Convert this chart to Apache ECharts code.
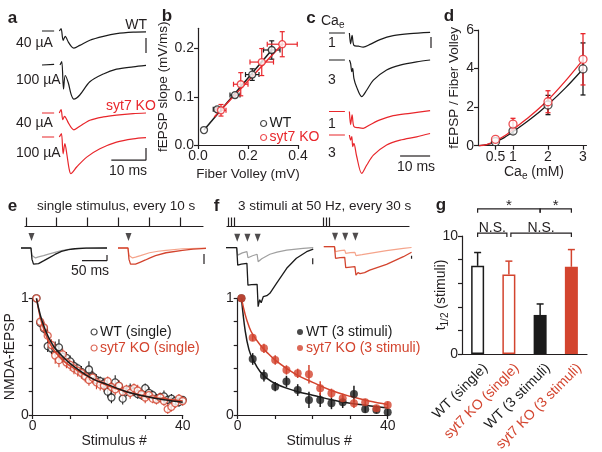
<!DOCTYPE html>
<html><head><meta charset="utf-8">
<script src="https://cdn.jsdelivr.net/npm/echarts@6/dist/echarts.min.js"></script>
<style>html,body{margin:0;padding:0;background:#fff}#c{width:602px;height:452px}</style>
</head><body><div id="c"></div>
<script>
// ================= DATA =================
// a: fEPSP traces [time ms, mV]; a null value splits off the pre-stimulus baseline
const aWT40  = [[0,0],[3.5,0],[4.2,null],[5.0,0],[5.5,0.08],[6.1,-0.31],[6.7,-0.18],[7.6,-0.37],[8.5,-0.52],[9.2,-0.57],[10.9,-0.48],[13.8,-0.31],[17.7,-0.18],[21.5,-0.09],[26.3,-0.04],[30,-0.03]];
const aWT100 = [[0,0],[3.5,0.02],[4.2,null],[5.2,0],[5.7,0.11],[6.2,-0.8],[6.7,-0.35],[7.6,-0.6],[8.4,-0.98],[9.2,-1.14],[10.9,-1.0],[13.8,-0.56],[17.7,-0.3],[21.5,-0.14],[26.3,-0.06],[30,-0.01]];
const aKO40  = [[0,0],[3.5,0],[4.2,null],[5.0,0],[5.5,0.11],[6.0,-0.22],[6.5,-0.11],[7.6,-0.33],[8.4,-0.48],[9.2,-0.56],[10.9,-0.44],[13.8,-0.24],[17.7,-0.13],[21.5,-0.07],[26.3,-0.02],[30,0]];
const aKO100 = [[0,0],[3.5,0],[4.2,null],[5.0,0],[5.6,0.11],[6.1,-0.56],[6.6,-0.22],[7.2,-0.6],[7.8,-1.05],[8.3,-1.22],[10.0,-1.0],[12.9,-0.67],[16.7,-0.39],[21.5,-0.17],[26.3,-0.06],[30,-0.02]];
const aScaleWT = [[30,-0.23],[30,-0.73]];
const aScaleKO = [[20,-0.77],[30,-0.77],[30,-0.37]];

// b: fEPSP slope vs fiber volley  [x, y]  and errors [xerr, yerr]
const bWT    = [[0.024,0.031],[0.077,0.074],[0.148,0.1035],[0.217,0.146],[0.295,0.197]];
const bWTerr = [[0,0],[0.016,0.004],[0.02,0.005],[0.027,0.012],[0.033,0.019]];
const bKO    = [[0.092,0.072],[0.171,0.126],[0.255,0.172],[0.337,0.209]];
const bKOerr = [[0.02,0.012],[0.029,0.024],[0.047,0.028],[0.06,0.026]];
const bWTfit = [[0.024,0.031],[0.295,0.197]];
const bKOfit = [[0.065,0.058],[0.337,0.209]];

// c: traces at Ca_e 1 and 3 mM
const cWT1 = [[0,0],[5.3,0],[6,null],[6.8,0],[7.2,-0.36],[7.7,-0.08],[8.3,-0.41],[9.8,-0.44],[11.4,-0.47],[13.7,-0.38],[17,-0.22],[21.4,-0.09],[27,-0.02],[33.7,0.02]];
const cWT3 = [[0,0],[5.3,0],[6,null],[6.8,0],[7.2,-0.11],[7.6,-0.39],[7.9,-0.28],[8.3,-0.61],[9.2,-0.9],[10.9,-1.22],[12.6,-1.0],[14.8,-0.67],[19.2,-0.33],[23.7,-0.17],[29.2,-0.06],[33.7,0]];
const cKO1 = [[0,0],[5.3,0],[6,null],[6.8,0],[7.2,-0.44],[7.7,-0.11],[8.3,-0.5],[9.8,-0.54],[11.4,-0.56],[13.7,-0.44],[17,-0.28],[21.4,-0.14],[27,-0.06],[33.7,0.03]];
const cKO3 = [[0,0],[5.3,0],[6,null],[6.8,0],[7.2,-0.17],[7.6,-0.05],[7.9,-0.39],[8.3,-0.28],[9.2,-0.7],[10.9,-1.28],[12.6,-1.0],[14.8,-0.67],[19.2,-0.33],[23.7,-0.17],[29.2,-0.06],[33.7,0.05]];
const cScaleV = [[34,-0.13],[34,-0.5]];
const cScaleH = [[23.7,-0.7],[33.7,-0.7]];

// d: fEPSP / fiber volley vs Ca_e
const dCa    = [0.5,1,2,3];
const dWT    = [0.21,0.76,2.11,3.98];
const dWTerr = [0.06,0.15,0.5,1.35];
const dKO    = [0.33,1.12,2.28,4.48];
const dKOerr = [0.07,0.3,0.57,1.33];
const dWTfit = [[0.03,0],[0.25,0.05],[0.5,0.2],[0.75,0.42],[1,0.72],[1.5,1.38],[2,2.14],[2.5,3.0],[3,3.98]];
const dKOfit = [[0.03,0],[0.25,0.06],[0.5,0.25],[0.75,0.5],[1,0.84],[1.5,1.55],[2,2.37],[2.5,3.36],[3,4.45]];
const dTicks = [0.5,1,2,3];

// e: single stimulus every 10 s
const eTrain = [0,10,20,30,40,50];
const eStim  = [1,2,3,4,5,6,7,8,9,10,11,12,13,14,15,16,17,18,19,20,21,22,23,24,25,26,27,28,29,30,31,32,33,34,35,36,37,38,39,40];
const eWT    = [1.0,0.79,0.74,0.59,0.57,0.57,0.58,0.5,0.49,0.46,0.42,0.4,0.37,0.34,0.39,0.33,0.3,0.29,0.27,0.2,0.15,0.28,0.25,0.14,0.2,0.22,0.2,0.18,0.17,0.23,0.19,0.17,0.14,0.15,0.16,0.13,0.14,0.12,0.11,0.13];
const eWTerr = [0,0.04,0.04,0.05,0.05,0.06,0.07,0.05,0.05,0.05,0.05,0.04,0.05,0.04,0.07,0.05,0.05,0.04,0.05,0.05,0.05,0.06,0.04,0.05,0.04,0.05,0.04,0.04,0.04,0.04,0.05,0.04,0.04,0.04,0.05,0.04,0.04,0.03,0.04,0.03];
const eKO    = [1.0,0.8,0.75,0.68,0.6,0.51,0.47,0.52,0.45,0.43,0.4,0.38,0.36,0.33,0.3,0.32,0.28,0.26,0.25,0.29,0.24,0.22,0.25,0.2,0.22,0.19,0.23,0.21,0.18,0.15,0.17,0.14,0.13,0.15,0.12,0.05,0.07,0.1,0.14,0.12];
const eKOerr = [0,0.05,0.05,0.05,0.05,0.07,0.06,0.05,0.05,0.05,0.05,0.05,0.05,0.05,0.05,0.05,0.06,0.05,0.05,0.04,0.05,0.05,0.05,0.05,0.04,0.05,0.04,0.05,0.04,0.05,0.04,0.04,0.04,0.04,0.04,0.04,0.04,0.04,0.04,0.04];
const eWTfit = [[1,1],[2,0.86],[3,0.76],[4,0.68],[5,0.62],[6,0.57],[8,0.5],[10,0.44],[13,0.37],[16,0.31],[20,0.26],[25,0.2],[30,0.16],[35,0.13],[40,0.11]];
const eKOfit = [[1,1],[2,0.84],[3,0.73],[4,0.65],[5,0.59],[6,0.54],[8,0.47],[10,0.42],[13,0.36],[16,0.31],[20,0.25],[25,0.2],[30,0.16],[35,0.14],[40,0.12]];
// e inset traces [ms, arbitrary]
const eStimT    = [21];
const eWTfirst  = [[0,0],[20,0],[21,0],[22,-0.6],[25,-0.85],[29,-0.91],[35,-0.82],[45,-0.68],[55,-0.53],[68,-0.34],[81,-0.18],[95,-0.09],[108,-0.04],[130,-0.01],[172,0]];
const eWTlast   = [[0,0],[20,0],[21,0],[22,-0.4],[25,-0.5],[29,-0.52],[35,-0.47],[45,-0.4],[55,-0.32],[68,-0.23],[81,-0.14],[95,-0.07],[108,-0.03],[130,0],[172,0]];
const eKOfirst  = [[0,0],[20,0],[21,0],[22,-0.6],[25,-0.85],[29,-0.91],[35,-0.85],[45,-0.74],[55,-0.63],[63,-0.53],[75,-0.4],[96,-0.25],[129,-0.12],[150,-0.06],[176,-0.02]];
const eKOlast   = [[0,0],[20,0],[21,0],[22,-0.4],[25,-0.5],[29,-0.52],[35,-0.48],[45,-0.4],[63,-0.25],[80,-0.17],[96,-0.12],[129,-0.04],[176,0]];
const eScaleWT  = [[122,-0.66],[172,-0.66],[172,-0.37]];
const eScaleKO  = [[172,-0.32],[172,-0.84]];

// f: 3 stimuli at 50 Hz every 30 s
const fTrain = [0,0.95,1.9,30,30.95,31.9];
const fStim  = [1,4,7,10,13,16,19,22,25,28,31,34,37,40];
const fWT    = [1.0,0.48,0.337,0.243,0.286,0.214,0.129,0.129,0.1,0.11,0.18,0.05,0.043,0.023];
const fWTerr = [0,0.05,0.05,0.04,0.05,0.05,0.07,0.06,0.05,0.05,0.07,0.03,0.03,0.03];
const fKO    = [1.0,0.663,0.571,0.471,0.386,0.357,0.349,0.229,0.186,0.143,0.1,0.109,0.057,0.086];
const fKOerr = [0,0.03,0.04,0.04,0.04,0.04,0.08,0.06,0.04,0.04,0.04,0.03,0.03,0.03];
const fWTfit = [[1,1],[2,0.72],[3,0.56],[4,0.48],[6,0.37],[8,0.31],[10,0.27],[13,0.23],[16,0.2],[20,0.17],[25,0.13],[30,0.1],[35,0.08],[40,0.06]];
const fKOfit = [[1,1],[2,0.86],[3,0.76],[4,0.69],[6,0.6],[8,0.53],[10,0.47],[13,0.4],[16,0.34],[20,0.28],[25,0.21],[30,0.16],[35,0.12],[40,0.09]];
const fStimT   = [22,42,62];
const fWTfirst = [[0,0],[21,0],[22,-0.1],[23,-0.87],[30,-0.82],[41,-0.78],[42,-0.8],[43,-1.87],[50,-1.85],[61,-1.83],[62,-1.85],[63,-2.95],[66,-2.6],[69,-2.75],[73,-2.45],[80,-2.4],[86,-2.28],[99,-1.78],[119,-1.03],[138,-0.53],[158,-0.2],[171,-0.07]];
const fWTlast  = [[0,0],[21,0],[22,-0.05],[23,-0.37],[32,-0.26],[41,-0.2],[42,-0.22],[43,-0.5],[52,-0.4],[61,-0.33],[62,-0.35],[63,-0.7],[70,-0.55],[86,-0.33],[100,-0.22],[119,-0.12],[151,-0.03],[171,0]];
const fKOfirst = [[0,0],[21,0],[22,-0.05],[23,-0.58],[32,-0.55],[41,-0.53],[42,-0.55],[43,-1.05],[52,-1.02],[61,-1.0],[62,-1.02],[63,-1.42],[67,-1.3],[71,-1.35],[74,-1.42],[80,-1.3],[90,-1.17],[123,-0.88],[156,-0.5],[172,-0.28]];
const fKOlast  = [[0,0],[21,0],[22,-0.03],[23,-0.25],[32,-0.2],[41,-0.17],[42,-0.18],[43,-0.33],[52,-0.3],[61,-0.28],[62,-0.3],[63,-0.45],[75,-0.4],[90,-0.33],[123,-0.2],[156,-0.08],[172,-0.04]];
const fScaleWT = [[170,-0.53],[170,-0.83]];
const fScaleKO = [[172,-0.45],[172,-0.6]];

// g: half-decay (stimuli)
const gCats = ['WT (single)','syt7 KO (single)','WT (3 stimuli)','syt7 KO (3 stimuli)'];
const gVals = [7.47,6.74,3.31,7.39];
const gErr  = [1.13,1.13,0.93,1.46];
const gBrackets = [[0,2,12.3],[2,3,12.3],[0,1,10.25],[1,3,10.25]];
const gBracketText = ['*','*','N.S.','N.S.'];

// ================= STYLE / BUILD =================
const C = {black:'#1b1b1b', red:'#e8262b', red2:'#d3442e', grey:'#a0a0a0', pink:'#f5a48b', axis:'#231f20'};
const FONT = '"Liberation Sans", Arial, sans-serif';
function mg(a,b){const o=Object.assign({},a);for(const k in b){const v=b[k];if(v&&typeof v==='object'&&!Array.isArray(v)&&o[k]&&typeof o[k]==='object'&&!Array.isArray(o[k]))o[k]=mg(o[k],v);else o[k]=v;}return o;}
const grids=[], xAxes=[], yAxes=[], series=[];
function addGrid(rect,x,y){grids.push(Object.assign({show:false,containLabel:false},rect));const i=grids.length-1;xAxes.push(Object.assign({gridIndex:i},x));yAxes.push(Object.assign({gridIndex:i},y));return i;}
const hid=(min,max)=>({type:'value',min,max,show:false});
function vAxis(extra){return mg({type:'value',axisLine:{show:true,onZero:false,lineStyle:{color:C.axis,width:1.2}},axisTick:{show:true,length:4,lineStyle:{color:C.axis,width:1.2}},axisLabel:{color:C.axis,fontSize:14,fontFamily:FONT,margin:4},splitLine:{show:false},nameLocation:'middle',nameTextStyle:{color:C.axis,fontSize:14,fontFamily:FONT}},extra);}
function line(g,data,color,w,smooth,z){series.push({type:'line',xAxisIndex:g,yAxisIndex:g,data,symbol:'none',clip:false,smooth:smooth||0,connectNulls:false,lineStyle:{color,width:w||1.2},silent:true,z:z||3,animation:false});}
function arrows(g,times,off){series.push({type:'scatter',xAxisIndex:g,yAxisIndex:g,data:times.map(t=>[t,0]),symbol:'triangle',symbolRotate:180,symbolSize:[6,8],symbolOffset:[0,off],itemStyle:{color:C.axis},silent:true,z:5});}
function errRender(color,cap,w){return function(params,api){const x=api.value(0),y=api.value(1),ex=api.value(2),ey=api.value(3);const st={stroke:color,lineWidth:w||1.2};const ch=[];const L=(a,b)=>ch.push({type:'line',shape:{x1:a[0],y1:a[1],x2:b[0],y2:b[1]},style:st});
 if(ey>0){const p=api.coord([x,y-ey]),q=api.coord([x,y+ey]);L(p,q);if(cap){L([p[0]-cap,p[1]],[p[0]+cap,p[1]]);L([q[0]-cap,q[1]],[q[0]+cap,q[1]]);}}
 if(ex>0){const p=api.coord([x-ex,y]),q=api.coord([x+ex,y]);L(p,q);if(cap){L([p[0],p[1]-cap],[p[0],p[1]+cap]);L([q[0],q[1]-cap],[q[0],q[1]+cap]);}}
 return {type:'group',children:ch};};}
function errSeries(g,data,color,cap,w){series.push({type:'custom',xAxisIndex:g,yAxisIndex:g,data,encode:{x:0,y:1},renderItem:errRender(color,cap,w),clip:false,silent:true,z:2});}
function pts(g,name,data,color,hollow,size){series.push({type:'scatter',name,xAxisIndex:g,yAxisIndex:g,data,symbol:'circle',symbolSize:size,itemStyle:hollow?{color:'#fff',borderColor:color,borderWidth:1.3}:{color},silent:true,z:4});}

// --- a traces
[[aWT40,C.black,23.5],[aWT100,C.black,57.5],[aKO40,C.red,105.5],[aKO100,C.red,129.5]].forEach(([d,c,top],i)=>{
  const g=addGrid({left:42,top,width:104,height:45},hid(0,30),hid(-1.25,0.25));line(g,d,c,1.2,0.3);
  if(i===0)line(g,aScaleWT,C.axis,1.2);if(i===3)line(g,aScaleKO,C.axis,1.2);});
// --- c traces
[[cWT1,C.black,25.5],[cWT3,C.black,52.5],[cKO1,C.red,104],[cKO3,C.red,127.5]].forEach(([d,c,top],i)=>{
  const g=addGrid({left:329,top,width:102,height:45},hid(0,34),hid(-1.25,0.25));line(g,d,c,1.2,0.3);
  if(i===0)line(g,cScaleV,C.axis,1.2);if(i===3)line(g,cScaleH,C.axis,1.2);});

// --- b
const gb=addGrid({left:198,top:28.3,width:100,height:116.7},
  vAxis({min:0,max:0.4,axisTick:{customValues:[0,0.2,0.4]},axisLabel:{customValues:[0,0.2,0.4],formatter:v=>v.toFixed(1)},name:'Fiber Volley (mV)',nameGap:22,nameTextStyle:{fontSize:13.5}}),
  vAxis({min:0,max:0.242,axisTick:{customValues:[0,0.1,0.2]},axisLabel:{customValues:[0,0.1,0.2],formatter:v=>v.toFixed(1)},name:'fEPSP slope (mV/ms)',nameGap:21,nameTextStyle:{fontSize:13.5}}));
line(gb,bWTfit,C.black,1.5,0,3);line(gb,bKOfit,C.red,1.5,0,3);
errSeries(gb,bWT.map((p,i)=>[p[0],p[1],bWTerr[i][0],bWTerr[i][1]]),C.black,2.5);
errSeries(gb,bKO.map((p,i)=>[p[0],p[1],bKOerr[i][0],bKOerr[i][1]]),C.red,2.5);
pts(gb,'WT',bWT,C.black,true,7);pts(gb,'syt7 KO',bKO,C.red,true,7);

// --- d
const gd=addGrid({left:478,top:30,width:108.5,height:115.7},
  vAxis({min:0,max:3.1,axisTick:{customValues:dTicks},axisLabel:{customValues:dTicks,formatter:v=>String(v)}}),
  vAxis({min:0,max:6,axisTick:{customValues:[0,2,4,6]},axisLabel:{customValues:[0,2,4,6]},name:'fEPSP / Fiber Volley',nameGap:17,nameTextStyle:{fontSize:13.5}}));
line(gd,dWTfit,C.black,1.3,0.3,3);line(gd,dKOfit,C.red,1.3,0.3,3);
errSeries(gd,dCa.map((x,i)=>[x,dWT[i],0,dWTerr[i]]),C.black,2.5,1.3);
errSeries(gd,dCa.map((x,i)=>[x,dKO[i],0,dKOerr[i]]),C.red,2.5,1.3);
pts(gd,'WT d',dCa.map((x,i)=>[x,dWT[i]]),C.black,true,8);pts(gd,'KO d',dCa.map((x,i)=>[x,dKO[i]]),C.red,true,8);

// --- trains
const trainAxis=(vals)=>({type:'value',min:-0.3,max:57.5,axisLine:{show:true,onZero:false,lineStyle:{color:C.axis,width:1.2}},axisTick:{show:true,inside:true,length:9,customValues:vals,lineStyle:{color:C.axis,width:1.2}},axisLabel:{show:false},splitLine:{show:false}});
addGrid({left:25,top:217.5,width:178,height:9},trainAxis(eTrain),hid(0,1));
addGrid({left:227,top:217.5,width:182,height:9},mg(trainAxis(fTrain),{max:57.2}),hid(0,1));

// --- e insets
const geW=addGrid({left:21,top:236.6,width:86,height:34.2},hid(0,172),hid(-1.2,0.6));
line(geW,eWTlast,C.grey,1.2);line(geW,eWTfirst,C.black,1.3);line(geW,eScaleWT,C.axis,1.2);arrows(geW,eStimT,-11);
const geK=addGrid({left:118,top:236.6,width:88,height:34.2},hid(0,176),hid(-1.2,0.6));
line(geK,eKOlast,C.pink,1.2);line(geK,eKOfirst,C.red2,1.3);line(geK,eScaleKO,C.axis,1.2);arrows(geK,eStimT,-11);
// --- f insets
const gfW=addGrid({left:226,top:235.7,width:88,height:78},hid(0,172.5),hid(-3.3,0.6));
line(gfW,fWTlast,C.grey,1.2);line(gfW,fWTfirst,C.black,1.3);line(gfW,fScaleWT,C.axis,1.2);arrows(gfW,fStimT,-10);
const gfK=addGrid({left:323.8,top:234.7,width:88,height:78},hid(0,172.5),hid(-3.3,0.6));
line(gfK,fKOlast,C.pink,1.2);line(gfK,fKOfirst,C.red2,1.3);line(gfK,fScaleKO,C.axis,1.2);arrows(gfK,fStimT,-10);

// --- e main
const eX=()=>vAxis({min:0,max:40,axisTick:{customValues:[0,10,20,30,40]},axisLabel:{customValues:[0,40]},name:'Stimulus #',nameGap:16,nameTextStyle:{padding:[0,0,0,13]}});
const eY=(name)=>vAxis({min:0,max:1,axisTick:{customValues:[0,0.2,0.4,0.6,0.8,1]},axisLabel:{customValues:[0,1]},name,nameGap:10});
const ge=addGrid({left:32.7,top:298.3,width:150,height:116.7},eX(),eY('NMDA-fEPSP'));
errSeries(ge,eStim.map((x,i)=>[x,eWT[i],0,eWTerr[i]]),C.black,0,1.1);
errSeries(ge,eStim.map((x,i)=>[x,eKO[i],0,eKOerr[i]]),C.red2,0,1.1);
pts(ge,'WT (single)',eStim.map((x,i)=>[x,eWT[i]]),C.black,true,7);
pts(ge,'syt7 KO (single)',eStim.map((x,i)=>[x,eKO[i]]),C.red2,true,7);
line(ge,eKOfit,C.red2,1.5,0.4,5);line(ge,eWTfit,C.black,1.5,0.4,5);
// --- f main
const gf=addGrid({left:237.7,top:298.3,width:150,height:116.7},eX(),eY(''));
line(gf,fWTfit,C.black,1.5,0.4,3);line(gf,fKOfit,C.red2,1.5,0.4,3);
errSeries(gf,fStim.map((x,i)=>[x,fWT[i],0,fWTerr[i]]),C.black,0,1.5);
errSeries(gf,fStim.map((x,i)=>[x,fKO[i],0,fKOerr[i]]),C.red2,0,1.5);
pts(gf,'WT (3 stimuli)',fStim.map((x,i)=>[x,fWT[i]]),C.black,false,8);
pts(gf,'syt7 KO (3 stimuli)',fStim.map((x,i)=>[x,fKO[i]]),C.red2,false,8);

// --- g
const gCol=[C.black,C.red2,C.black,C.red2];
const gg=addGrid({left:462,top:236,width:125,height:118},
  {type:'category',data:gCats,axisLine:{show:true,lineStyle:{color:C.axis,width:1.2}},axisTick:{show:false},axisLabel:{show:false}},
  vAxis({min:0,max:10,axisTick:{customValues:[0,2,4,6,8,10]},axisLabel:{customValues:[0,10]}}));
const gStyles=[{color:'#fff',borderColor:C.black,borderWidth:1.5},{color:'#fff',borderColor:C.red2,borderWidth:1.5},{color:C.black},{color:C.red2}];
series.push({type:'bar',xAxisIndex:gg,yAxisIndex:gg,barWidth:13,data:gVals.map((v,i)=>({value:v,itemStyle:gStyles[i]})),silent:true,z:2});
series.push({type:'custom',xAxisIndex:gg,yAxisIndex:gg,data:gVals.map((v,i)=>[i,v,gErr[i]]),encode:{x:0,y:1},clip:false,silent:true,z:3,
  renderItem:(p,api)=>{const i=api.value(0),v=api.value(1),e=api.value(2);const a=api.coord([i,v]),b=api.coord([i,v+e]);const st={stroke:gCol[p.dataIndex],lineWidth:1.5};
    return {type:'group',children:[{type:'line',shape:{x1:a[0],y1:a[1],x2:b[0],y2:b[1]},style:st},{type:'line',shape:{x1:b[0]-3.5,y1:b[1],x2:b[0]+3.5,y2:b[1]},style:st}]};}});
series.push({type:'custom',xAxisIndex:gg,yAxisIndex:gg,data:gBrackets,encode:{x:0,y:2},clip:false,silent:true,z:3,
  renderItem:(p,api)=>{const i=p.dataIndex;const a=api.coord([api.value(0),api.value(2)]),b=api.coord([api.value(1),api.value(2)]);
    const x1=a[0]+(i===3?2:0),x2=b[0]+(i===2?-2:0),y=a[1];const star=gBracketText[i]==='*';
    return {type:'group',children:[{type:'polyline',shape:{points:[[x1,y+4],[x1,y],[x2,y],[x2,y+4]]},style:{stroke:C.axis,lineWidth:1.2,fill:null}},
      {type:'text',x:(x1+x2)/2,y:star?y+4:y+2.5,style:{text:gBracketText[i],fill:C.axis,fontSize:star?15:14,fontFamily:FONT,align:'center',verticalAlign:'bottom'}}]};}});
// rotated category labels of g, anchored just below-right of each category centre
series.push({type:'custom',xAxisIndex:gg,yAxisIndex:gg,data:gCats.map((c,i)=>[i,0]),encode:{x:0,y:1},clip:false,silent:true,z:3,
  renderItem:(p,api)=>{const q=api.coord([api.value(0),0]);return {type:'text',x:q[0]+8,y:q[1]+12,rotation:Math.PI/4,
    style:{text:gCats[p.dataIndex],fill:gCol[p.dataIndex],fontSize:14,fontFamily:FONT,align:'right',verticalAlign:'middle'}};}});

// --- legends
const lg=(left,top,items,lh,isz)=>({left,top,orient:'vertical',itemWidth:isz,itemHeight:isz,itemGap:0,selectedMode:false,
  itemStyle:{borderWidth:1.2},textStyle:{fontSize:14,fontFamily:FONT,lineHeight:lh,padding:[0,0,0,-2]},data:items.map(([n,c])=>({name:n,textStyle:{color:c}}))});
const legends=[lg(255,111.5,[['WT',C.black],['syt7 KO',C.red]],13,6),
  lg(85.5,319,[['WT (single)',C.black],['syt7 KO (single)',C.red2]],16,6),
  lg(292,319,[['WT (3 stimuli)',C.black],['syt7 KO (3 stimuli)',C.red2]],16,6)];

// --- texts
const mctx=document.createElement('canvas').getContext('2d');
function tw(s,size){mctx.font=size+'px '+FONT;return mctx.measureText(s).width;}
// text with subscripts: parts = [[text, isSub], ...]
function subText(x,y,parts,align,rotation){let w=0;const ch=[];
  parts.forEach(([s,sub])=>{const fs=sub?10:14;ch.push({type:'text',x:w,y:sub?4:0,style:{text:s,fontSize:fs,fontFamily:FONT,fill:C.axis,align:'left',verticalAlign:'middle'}});w+=tw(s,fs);});
  const off=align==='center'?-w/2:0;ch.forEach(c=>{c.x+=off;});
  return {type:'group',x,y,rotation:rotation||0,silent:true,children:ch};}
const T=(x,y,text,o)=>({type:'text',x,y,silent:true,z:10,style:Object.assign({text,fill:C.axis,fontSize:14,fontFamily:FONT,align:'left',verticalAlign:'middle'},o||{})});
const B={fontSize:17,fontWeight:'bold',align:'center'};
const graphic=[
  T(12.5,18,'a',B),T(167,16.5,'b',B),T(311,18,'c',B),T(449,16,'d',B),T(12.5,206,'e',B),T(216.5,206,'f',B),T(441,205,'g',B),
  T(147,25,'WT',{align:'right'}),T(16,43.5,'40 µA'),T(16,80,'100 µA'),T(106,106,'syt7 KO',{fill:C.red}),T(16,123,'40 µA'),T(16,153,'100 µA'),T(128,171,'10 ms',{align:'center'}),
  subText(321,21,[['Ca',false],['e',true]],'left'),
  T(332,43,'1',{align:'center'}),T(332,80,'3',{align:'center'}),T(332,124,'1',{align:'center'}),T(332,153,'3',{align:'center'}),T(416,167,'10 ms',{align:'center'}),
  subText(534,172,[['Ca',false],['e',true],[' (mM)',false]],'center'),
  T(37,206,'single stimulus, every 10 s',{fontSize:13.5}),T(90,271,'50 ms',{align:'center'}),
  T(238,206,'3 stimuli at 50 Hz, every 30 s',{fontSize:13.5}),
  subText(441,295,[['t',false],['1/2',true],[' (stimuli)',false]],'center',Math.PI/2)
];

const chart=echarts.init(document.getElementById('c'),null,{renderer:'canvas'});
chart.setOption({animation:false,backgroundColor:'#fff',grid:grids,xAxis:xAxes,yAxis:yAxes,series,legend:legends,graphic:{elements:graphic}});
</script></body></html>
